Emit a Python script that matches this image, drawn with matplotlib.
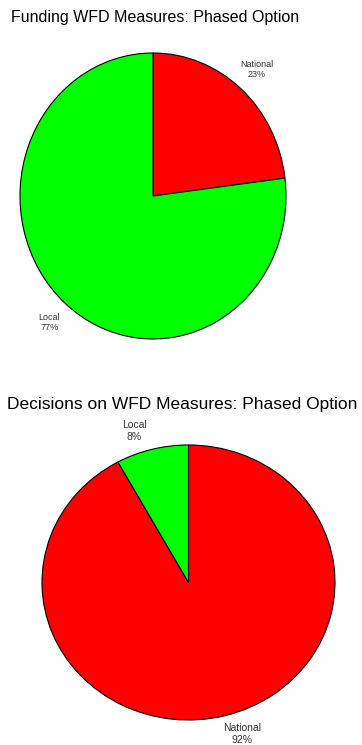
"""
Two pie charts: funding and decisions on WFD measures (phased option).
"""

import matplotlib
matplotlib.use("Agg")
from matplotlib import pyplot as plt

FUNDING_LABELS = ["National", "Local"]
FUNDING_SHARES = [23, 77]
DECISION_LABELS = ["National", "Local"]
DECISION_SHARES = [92, 8]
SLICE_COLORS = {"National": "#ff0000", "Local": "#00ff00"}

W, H = 362, 745
plt.rcParams["font.family"] = ["Liberation Sans", "DejaVu Sans"]


def px_axes(fig, left, top, right, bottom):
    """Add axes from pixel bounds (top-left origin)."""
    return fig.add_axes([left / W, 1 - bottom / H,
                         (right - left) / W, (bottom - top) / H])


def draw_pie(ax, labels, shares, dist, xstretch, fontsize):
    texts = [f"{lab}\n{val}%" for lab, val in zip(labels, shares)]
    colors = [SLICE_COLORS[lab] for lab in labels]
    wedges, txts = ax.pie(shares, labels=texts, colors=colors,
                          startangle=90, counterclock=False,
                          labeldistance=dist,
                          wedgeprops={"edgecolor": "black", "linewidth": 0.8},
                          textprops={"fontsize": fontsize, "color": "#333333"})
    for t in txts:
        x, y = t.get_position()
        t.set_position((x * xstretch, y))
        t.set_ha("center")
        t.set_va("center")
        t.set_linespacing(1.25)
    ax.set_aspect("auto")
    ax.set_xlim(-1, 1)
    ax.set_ylim(-1, 1)
    ax.axis("off")


fig = plt.figure(figsize=(W / 100, H / 100), dpi=100)

ax1 = px_axes(fig, 20, 53, 286, 339)
draw_pie(ax1, FUNDING_LABELS, FUNDING_SHARES, 1.18, 1.0, 6.5)
fig.text(155.5 / W, 1 - 17.5 / H, "Funding WFD Measures: Phased Option",
         ha="center", va="center", fontsize=11.5)

ax2 = px_axes(fig, 42, 445, 335, 720)
draw_pie(ax2, DECISION_LABELS, DECISION_SHARES, 1.14, 1.3, 7.5)
fig.text(182.5 / W, 1 - 405 / H, "Decisions on WFD Measures: Phased Option",
         ha="center", va="center", fontsize=12.5)

fig.savefig("out.png", dpi=100)
